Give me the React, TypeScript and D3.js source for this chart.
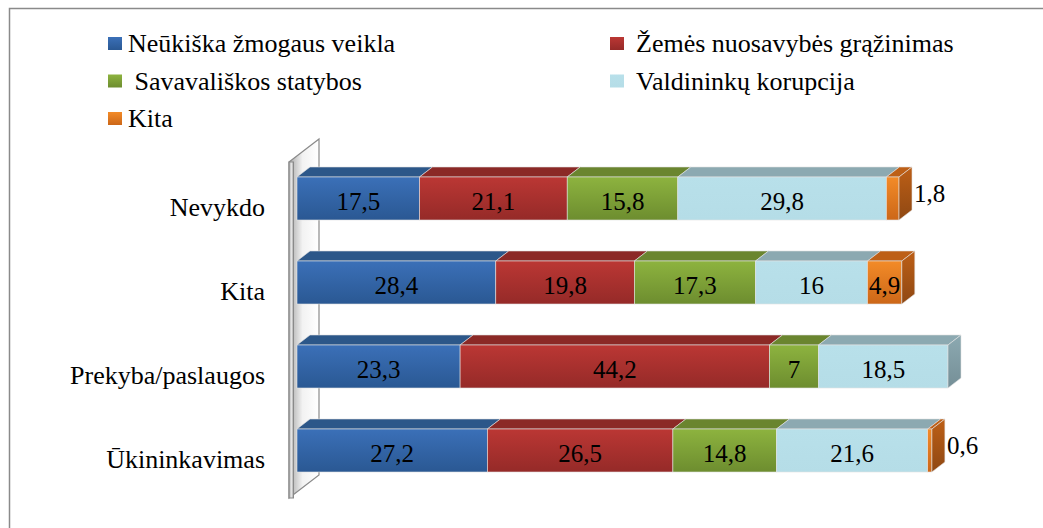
import React from "react";
import * as d3 from "d3";

const categories = ["Nevykdo", "Kita", "Prekyba/paslaugos", "Ūkininkavimas"];
const seriesNames = [
  "Neūkiška žmogaus veikla",
  "Žemės nuosavybės grąžinimas",
  " Savavališkos statybos",
  "Valdininkų korupcija",
  "Kita",
];
const humanActivity = [17.5, 28.4, 23.3, 27.2];
const landRestitution = [21.1, 19.8, 44.2, 26.5];
const illegalConstruction = [15.8, 17.3, 7, 14.8];
const corruption = [29.8, 16, 18.5, 21.6];
const other = [1.8, 4.9, 0, 0.6];

const seriesValues = [humanActivity, landRestitution, illegalConstruction, corruption, other];

const palette = [
  { top: "#3b70b8", bottom: "#2a5893", roof: "#2c5789", side: "#234a78" },
  { top: "#bb3734", bottom: "#952a28", roof: "#8b2926", side: "#7a2220" },
  { top: "#8db33f", bottom: "#6d8d2f", roof: "#6a852f", side: "#5a7228" },
  { top: "#b8e0ea", bottom: "#b5dde7", roof: "#8ca9b1", side: "#758f97" },
  { top: "#f38b28", bottom: "#cc6718", roof: "#bd5f16", side: "#8f4813" },
];

const tStyle: React.CSSProperties = { fontFamily: '"Liberation Serif"' };

export default function App() {
  const W = 1043;
  const H = 528;
  const DX = 13;
  const DY = -10;

  const x = d3.scaleLinear().domain([0, 100]).range([297, 997]);
  const y = d3
    .scaleBand<string>()
    .domain(categories)
    .range([156.5, 492.5])
    .paddingInner(0.488)
    .paddingOuter(0.244);
  const bh = y.bandwidth();

  const stackData = categories.map((c, i) => {
    const row: any = { cat: c };
    seriesValues.forEach((s, j) => (row["s" + j] = s[i]));
    return row;
  });
  const stack = d3.stack<any>().keys(seriesValues.map((_, j) => "s" + j));
  const layers = stack(stackData);

  const fmt = (v: number) => String(v).replace(".", ",");
  const labelW = (v: number) =>
    fmt(v)
      .split("")
      .reduce((acc, ch) => acc + (ch === "," ? 6.25 : 12.5), 0);

  const legendPos = [
    { sx: 108, tx: 128, by: 52 },
    { sx: 610, tx: 636, by: 52 },
    { sx: 108, tx: 128, by: 89.5 },
    { sx: 610, tx: 636, by: 89.5 },
    { sx: 108, tx: 128, by: 127 },
  ];

  const wallTop = 162;
  const wallBot = 498;
  const wx = x(0) - 8;

  return (
    <svg width={W} height={H} style={{ position: "absolute", left: 0, top: 0, background: "#fff" }}>
      <defs>
        {palette.map((p, j) => (
          <linearGradient key={j} id={"front" + j} x1="0" y1="0" x2="0" y2="1">
            <stop offset="0" stopColor={p.top} />
            <stop offset="1" stopColor={p.bottom} />
          </linearGradient>
        ))}
        {palette.map((p, j) => (
          <linearGradient key={"s" + j} id={"side" + j} x1="0" y1="0" x2="0" y2="1">
            <stop offset="0" stopColor={p.roof} />
            <stop offset="1" stopColor={p.side} />
          </linearGradient>
        ))}
        <linearGradient id="wallG" x1="0" y1="0" x2="1" y2="0">
          <stop offset="0" stopColor="#a8a8a8" />
          <stop offset="0.45" stopColor="#f2f2f2" />
          <stop offset="1" stopColor="#ffffff" />
        </linearGradient>
        <linearGradient id="wallEdge" x1="0" y1="0" x2="1" y2="0">
          <stop offset="0" stopColor="#9a9a9a" />
          <stop offset="0.5" stopColor="#ececec" />
          <stop offset="1" stopColor="#a0a0a0" />
        </linearGradient>
      </defs>

      <rect x={9.5} y={8.5} width={1045} height={530} fill="none" stroke="#8a8a8a" strokeWidth={1.5} />

      {/* legend */}
      {seriesNames.map((name, j) => {
        const lp = legendPos[j];
        const lead = name.length - name.trimStart().length;
        return (
          <g key={name}>
            <rect x={lp.sx} y={lp.by - 15} width={14} height={13} fill={`url(#front${j})`} />
            <text x={lp.tx + lead * 6.5} y={lp.by} fontSize={26} fill="#000" style={tStyle}>
              {name.trimStart()}
            </text>
          </g>
        );
      })}

      {/* wall */}
      <polygon
        points={`${wx},${wallTop} ${wx + 30},${wallTop - 23} ${wx + 30},${wallBot - 23} ${wx},${wallBot}`}
        fill="url(#wallG)"
        stroke="#8a8a8a"
        strokeWidth={1.2}
      />
      <rect x={wx} y={wallTop} width={4.5} height={wallBot - wallTop} fill="url(#wallEdge)" stroke="#8a8a8a" strokeWidth={1} />

      {/* bars */}
      {categories.map((c, i) => {
        const y0 = y(c)!;
        const segs = layers
          .map((L, j) => ({ j, v0: L[i][0], v1: L[i][1], v: seriesValues[j][i] }))
          .filter((s) => s.v > 0);
        const last = segs[segs.length - 1];
        return (
          <g key={c}>
            {segs.map((s) => {
              const a = x(s.v0);
              const b = x(s.v1);
              return (
                <g key={s.j}>
                  <polygon
                    points={`${a},${y0} ${a + DX},${y0 + DY} ${b + DX},${y0 + DY} ${b},${y0}`}
                    fill={palette[s.j].roof}
                    stroke="#e2e2e2"
                    strokeWidth={0.6}
                  />
                  <rect x={a} y={y0} width={b - a} height={bh} fill={`url(#front${s.j})`} stroke="#e2e2e2" strokeWidth={0.6} />
                </g>
              );
            })}
            <polygon
              points={`${x(last.v1)},${y0} ${x(last.v1) + DX},${y0 + DY} ${x(last.v1) + DX},${y0 + DY + bh} ${x(last.v1)},${y0 + bh}`}
              fill={`url(#side${last.j})`}
              stroke="#e2e2e2"
              strokeWidth={0.6}
            />
            {segs.map((s) => {
              const a = x(s.v0);
              const b = x(s.v1);
              const txt = fmt(s.v);
              const fits = b - a >= labelW(s.v);
              const cy = y0 + bh / 2;
              return fits ? (
                <text key={"l" + s.j} x={(a + b) / 2} y={cy + 11.5} fontSize={25} textAnchor="middle" fill="#000" style={tStyle}>
                  {txt}
                </text>
              ) : (
                <text key={"l" + s.j} x={b + DX + 2} y={cy + 3.5} fontSize={25} textAnchor="start" fill="#000" style={tStyle}>
                  {txt}
                </text>
              );
            })}
            <text x={265} y={y0 + bh / 2 + 17} fontSize={26} textAnchor="end" fill="#000" style={tStyle}>
              {c}
            </text>
          </g>
        );
      })}
    </svg>
  );
}
